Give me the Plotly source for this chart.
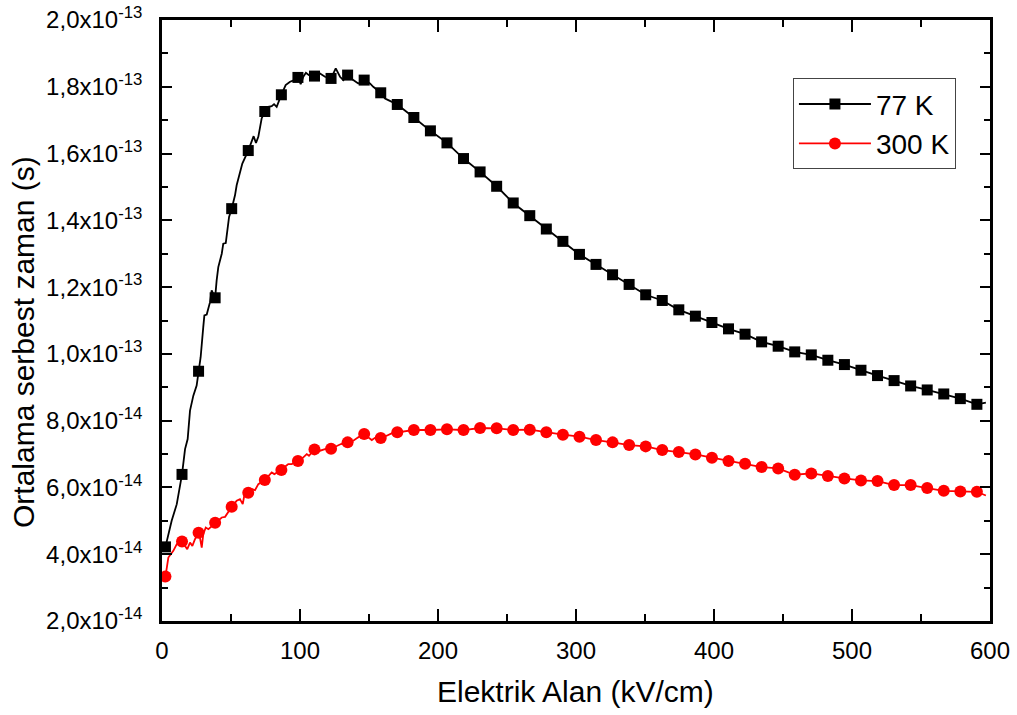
import numpy as np
import plotly.graph_objects as go

# Electric field (kV/cm) at the plotted symbols
field_marks = [2.5, 14.5, 26.5, 38.5, 50.5, 62.5, 74.5, 86.5, 98.5, 110.5,
               122.5, 134.5, 146.5, 158.5, 170.5, 182.5, 194.5, 206.5, 218.5, 230.5,
               242.5, 254.5, 266.5, 278.5, 290.5, 302.5, 314.5, 326.5, 338.5, 350.5,
               362.5, 374.5, 386.5, 398.5, 410.5, 422.5, 434.5, 446.5, 458.5, 470.5,
               482.5, 494.5, 506.5, 518.5, 530.5, 542.5, 554.5, 566.5, 578.5, 590.5]

# Mean free time, in units of 1e-14 s
tau_77K = [4.22, 6.39, 9.48, 11.68, 14.35, 16.09, 17.26, 17.76, 18.28, 18.32,
           18.25, 18.35, 18.20, 17.82, 17.47, 17.08, 16.68, 16.32, 15.85, 15.45,
           15.02, 14.52, 14.14, 13.74, 13.37, 12.98, 12.68, 12.37, 12.08, 11.77,
           11.60, 11.32, 11.13, 10.94, 10.75, 10.59, 10.36, 10.23, 10.06, 9.97,
           9.81, 9.68, 9.51, 9.35, 9.20, 9.04, 8.92, 8.80, 8.66, 8.49]

tau_300K = [3.33, 4.38, 4.64, 4.94, 5.42, 5.84, 6.22, 6.52, 6.79, 7.14,
            7.16, 7.35, 7.60, 7.48, 7.65, 7.72, 7.72, 7.74, 7.72, 7.78,
            7.77, 7.72, 7.73, 7.65, 7.58, 7.52, 7.42, 7.35, 7.27, 7.23,
            7.12, 7.06, 6.99, 6.89, 6.79, 6.71, 6.61, 6.57, 6.38, 6.42,
            6.34, 6.27, 6.21, 6.19, 6.07, 6.07, 5.98, 5.90, 5.88, 5.87]

# Full-resolution curve in the low-field region (noisy Monte Carlo output)
low_field_77K_x = [2.5, 7.0, 10.7, 14.5, 16.7, 18.6, 20.3, 22.7, 25.1, 26.5,
                   28.0, 29.9, 30.7, 32.4, 34.8, 36.0, 38.5, 39.6, 40.8, 43.3,
                   44.4, 46.2, 48.6, 50.5, 52.9, 54.1, 56.5, 58.2, 62.5, 65.0,
                   66.4, 68.1, 69.8, 72.2, 74.5, 77.0, 79.5, 81.2, 83.1, 86.5,
                   89.6, 92.8, 95.9, 98.5, 100.5, 102.4, 104.3, 106.5, 110.5, 114.5,
                   118.1, 122.5, 124.1, 125.9, 129.0, 131.4, 134.5, 138.6, 142.2, 146.5,
                   150.7, 153.1, 158.5, 161.6, 164.0, 170.5]
low_field_77K_y = [4.22, 5.00, 5.50, 6.39, 7.15, 7.45, 8.30, 8.75, 9.05, 9.48,
                   9.90, 10.80, 11.15, 11.18, 11.55, 11.90, 11.68, 12.20, 12.60, 13.00,
                   13.30, 13.32, 14.10, 14.35, 14.75, 15.05, 15.45, 15.70, 16.09, 16.40,
                   16.52, 16.32, 16.50, 17.05, 17.26, 17.40, 17.42, 17.48, 17.40, 17.76,
                   18.05, 18.15, 18.20, 18.28, 18.08, 18.30, 18.42, 18.35, 18.32, 18.40,
                   18.30, 18.25, 18.40, 18.55, 18.30, 18.20, 18.35, 18.20, 18.10, 18.20,
                   18.10, 18.00, 17.82, 17.65, 17.60, 17.47]

low_field_300K_x = [2.5, 4.6, 8.2, 10.7, 14.5, 16.7, 18.3, 20.3, 22.0, 23.9,
                    26.5, 27.5, 28.8, 29.9, 31.7, 33.6, 38.5, 40.8, 43.3, 45.7,
                    50.5, 54.1, 56.5, 58.5, 59.6, 62.5, 65.0, 67.4, 69.8, 74.5,
                    77.0, 79.5, 81.4, 86.5, 89.1, 91.5, 94.0, 98.5, 102.4, 104.9,
                    106.5, 110.5, 114.5, 118.1, 122.5, 126.6, 129.7, 134.5, 138.6, 142.2,
                    146.5, 149.5, 152.0, 154.9, 158.5, 162.8, 166.4, 170.5]
low_field_300K_y = [3.33, 3.90, 4.10, 4.30, 4.38, 4.25, 4.15, 4.35, 4.25, 4.45,
                    4.64, 4.50, 4.20, 4.60, 4.80, 4.75, 4.94, 5.00, 5.10, 5.12,
                    5.42, 5.60, 5.65, 5.50, 5.75, 5.84, 5.95, 5.92, 6.10, 6.22,
                    6.35, 6.45, 6.40, 6.52, 6.62, 6.70, 6.70, 6.79, 6.90, 7.00,
                    6.95, 7.14, 7.10, 7.15, 7.16, 7.25, 7.30, 7.35, 7.40, 7.50,
                    7.60, 7.50, 7.42, 7.50, 7.48, 7.55, 7.62, 7.65]

# Last computed field point on each curve
end_field = 597.0
end_tau_77K = 8.54
end_tau_300K = 5.76

y_tick_vals = [2, 4, 6, 8, 10, 12, 14, 16, 18, 20]
y_tick_text = ["2,0x10<sup>-14</sup>", "4,0x10<sup>-14</sup>", "6,0x10<sup>-14</sup>",
               "8,0x10<sup>-14</sup>", "1,0x10<sup>-13</sup>", "1,2x10<sup>-13</sup>",
               "1,4x10<sup>-13</sup>", "1,6x10<sup>-13</sup>", "1,8x10<sup>-13</sup>",
               "2,0x10<sup>-13</sup>"]
x_tick_vals = [0, 100, 200, 300, 400, 500, 600]

SCALE = 1e-14
FONT = "Liberation Sans, Arial, sans-serif"

line77_x = low_field_77K_x + field_marks[15:] + [end_field]
line77_y = np.array(low_field_77K_y + tau_77K[15:] + [end_tau_77K]) * SCALE
line300_x = low_field_300K_x + field_marks[15:] + [end_field]
line300_y = np.array(low_field_300K_y + tau_300K[15:] + [end_tau_300K]) * SCALE

fig = go.Figure()

series = [
    ("77 K", "black", "square", 11, line77_x, line77_y, tau_77K),
    ("300 K", "#ff0000", "circle", 12, line300_x, line300_y, tau_300K),
]
for name, color, symbol, msize, lx, ly, marks in series:
    fig.add_trace(go.Scatter(x=lx, y=ly, mode="lines", showlegend=False,
                             line=dict(color=color, width=1.8), legendgroup=name,
                             hoverinfo="skip"))
    fig.add_trace(go.Scatter(x=field_marks, y=np.array(marks) * SCALE, mode="markers",
                             showlegend=False, legendgroup=name,
                             marker=dict(color=color, symbol=symbol, size=msize,
                                         line=dict(width=0))))
    # legend entry: line with symbol
    fig.add_trace(go.Scatter(x=[None], y=[None], mode="lines+markers", name=name,
                             legendgroup=name,
                             line=dict(color=color, width=1.8),
                             marker=dict(color=color, symbol=symbol, size=msize)))

axis_common = dict(
    showline=True, linecolor="black", linewidth=2.5, mirror="allticks",
    ticks="inside", tickcolor="black", tickwidth=2,
    showgrid=False, zeroline=False,
    tickfont=dict(family=FONT, size=24, color="black"),
)

fig.update_xaxes(
    range=[0, 600], tickmode="array", tickvals=x_tick_vals, ticklen=12,
    ticklabelstandoff=6,
    minor=dict(tickmode="linear", tick0=0, dtick=50, ticks="inside", ticklen=7,
               tickwidth=2, tickcolor="black"),
    **axis_common,
)
fig.update_yaxes(
    range=[2e-14, 2e-13], tickmode="array",
    tickvals=[v * SCALE for v in y_tick_vals], ticktext=y_tick_text, ticklen=10,
    ticklabelstandoff=12,
    minor=dict(tickmode="array", tickvals=[v * SCALE for v in range(3, 20, 2)],
               ticks="inside", ticklen=6, tickwidth=2, tickcolor="black"),
    **axis_common,
)

fig.add_annotation(text="Elektrik Alan (kV/cm)", xref="paper", yref="paper",
                   x=0.499, y=-0.118, xanchor="center", yanchor="middle",
                   showarrow=False, font=dict(family=FONT, size=30, color="black"))
fig.add_annotation(text="Ortalama serbest zaman (s)", xref="paper", yref="paper",
                   x=-0.168, y=0.464, xanchor="center", yanchor="middle", textangle=-90,
                   showarrow=False, font=dict(family=FONT, size=30, color="black"))

fig.update_layout(
    width=1017, height=715,
    margin=dict(l=162, r=27, t=20, b=94, autoexpand=False),
    paper_bgcolor="white", plot_bgcolor="white",
    font=dict(family=FONT, color="black"),
    showlegend=True,
    legend=dict(x=0.762, y=0.903, xanchor="left", yanchor="top",
                bgcolor="white", bordercolor="#444444", borderwidth=1,
                font=dict(family=FONT, size=28, color="black"),
                itemwidth=72, tracegroupgap=0),
)

fig.write_html("out.html")
